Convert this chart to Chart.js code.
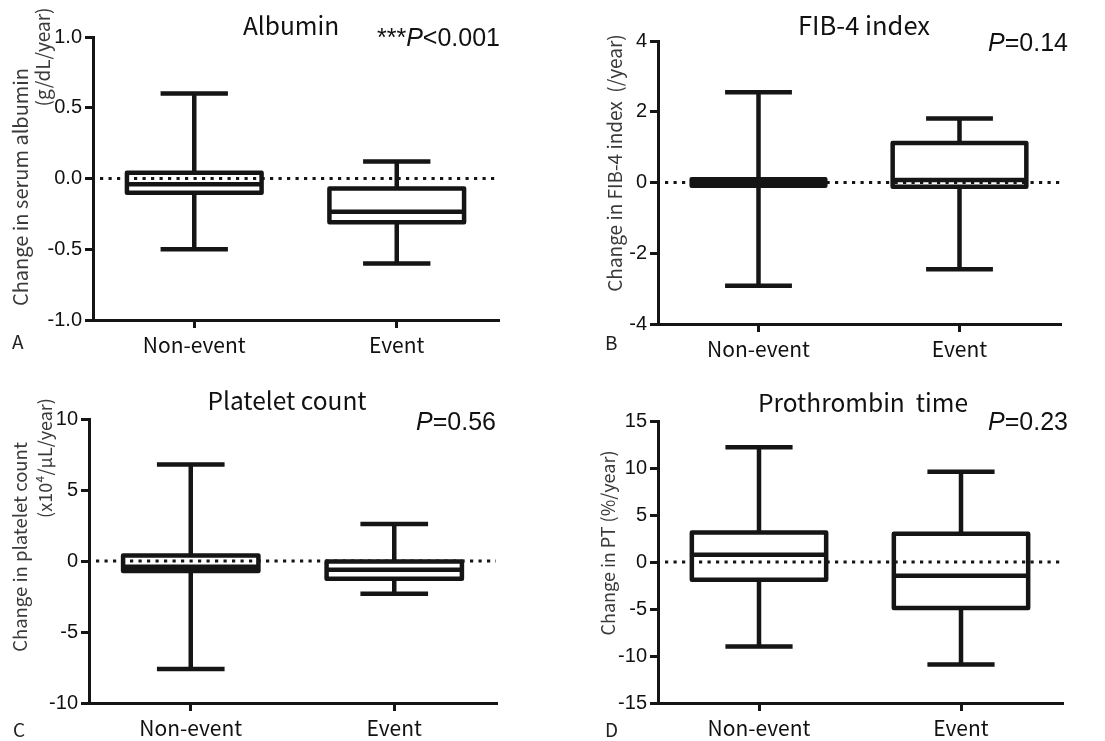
<!DOCTYPE html>
<html>
<head>
<meta charset="utf-8">
<script src="https://cdn.jsdelivr.net/npm/chart.js@4.4.1/dist/chart.umd.min.js"></script>
<style>
  html, body { margin: 0; padding: 0; background: #fff; }
  #wrap { position: relative; width: 1105px; height: 741px; overflow: hidden; }
  canvas { position: absolute; }
</style>
</head>
<body>
<div id="wrap">
  <canvas id="panelA" width="550" height="370" style="left:0;top:0"></canvas>
  <canvas id="panelB" width="555" height="370" style="left:550px;top:0"></canvas>
  <canvas id="panelC" width="550" height="371" style="left:0;top:370px"></canvas>
  <canvas id="panelD" width="555" height="371" style="left:550px;top:370px"></canvas>
</div>
<script>
'use strict';

// groups on the x axis
const groups = ['Non-event', 'Event'];

// A: albumin (g/dL/year)
const albMin = [-0.50, -0.60];
const albQ1  = [-0.10, -0.31];
const albMed = [-0.04, -0.235];
const albQ3  = [0.04, -0.07];
const albMax = [0.60, 0.12];
const albTicks = [-1.0, -0.5, 0.0, 0.5, 1.0];

// B: FIB-4 index (/year)
const fibMin = [-2.92, -2.45];
const fibQ1  = [-0.09, -0.12];
const fibMed = [0.0, 0.07];
const fibQ3  = [0.09, 1.12];
const fibMax = [2.55, 1.81];
const fibTicks = [-4, -2, 0, 2, 4];

// C: platelet count (x10^4/uL/year)
const pltMin = [-7.6, -2.3];
const pltQ1  = [-0.7, -1.25];
const pltMed = [-0.4, -0.62];
const pltQ3  = [0.38, -0.03];
const pltMax = [6.8, 2.6];
const pltTicks = [-10, -5, 0, 5, 10];

// D: prothrombin time (%/year)
const ptMin = [-9.0, -10.9];
const ptQ1  = [-1.9, -4.9];
const ptMed = [0.78, -1.45];
const ptQ3  = [3.15, 3.0];
const ptMax = [12.2, 9.6];
const ptTicks = [-15, -10, -5, 0, 5, 10, 15];

const INK = '#151515';
const TICK_FONT = { family: '"Liberation Sans", Arial, sans-serif', size: 20 };
const LABEL_FONT = '"Noto Sans CJK JP", "Noto Sans", sans-serif';
const P_FONT = '"Liberation Sans", Arial, sans-serif';

// box + whiskers drawn on top of the (invisible) floating bars
const boxWhisker = {
  id: 'boxWhisker',
  beforeDatasetsDraw(chart) {
    const ctx = chart.ctx, a = chart.chartArea, y0 = chart.scales.y.getPixelForValue(0);
    ctx.save();
    ctx.strokeStyle = INK;
    ctx.lineWidth = 3.2;
    ctx.setLineDash([3.2, 5.3]);
    ctx.beginPath();
    ctx.moveTo(a.left + 7, y0);
    ctx.lineTo(a.right, y0);
    ctx.stroke();
    ctx.restore();
  },
  afterDatasetsDraw(chart) {
    const ctx = chart.ctx, ys = chart.scales.y;
    const ds = chart.data.datasets[0];
    const meta = chart.getDatasetMeta(0);
    ctx.save();
    ctx.strokeStyle = INK;
    ctx.lineWidth = 4.5;
    ctx.lineJoin = 'round';
    meta.data.forEach((bar, i) => {
      const x = bar.x, w = bar.width;
      const top = ys.getPixelForValue(ds.q3[i]);
      const bot = ys.getPixelForValue(ds.q1[i]);
      const med = ys.getPixelForValue(ds.med[i]);
      const hi = ys.getPixelForValue(ds.hi[i]);
      const lo = ys.getPixelForValue(ds.lo[i]);
      const cap = w / 4;
      ctx.beginPath();
      ctx.moveTo(x, top); ctx.lineTo(x, hi);
      ctx.moveTo(x - cap, hi); ctx.lineTo(x + cap, hi);
      ctx.moveTo(x, bot); ctx.lineTo(x, lo);
      ctx.moveTo(x - cap, lo); ctx.lineTo(x + cap, lo);
      ctx.stroke();
      ctx.beginPath();
      ctx.rect(x - w / 2, top, w, bot - top);
      ctx.moveTo(x - w / 2, med); ctx.lineTo(x + w / 2, med);
      ctx.stroke();
    });
    ctx.restore();
  },
  afterDraw(chart) {
    const o = chart.options.plugins.boxWhisker;
    const ctx = chart.ctx;
    ctx.save();
    ctx.fillStyle = '#111';
    ctx.textBaseline = 'alphabetic';
    // title
    ctx.font = o.titleSize + 'px ' + LABEL_FONT;
    ctx.textAlign = 'center';
    ctx.fillText(o.title, o.titleX, o.titleY);
    // p value, right aligned, P in italics
    ctx.textAlign = 'left';
    const parts = [[o.pPre, 'normal'], ['P', 'italic'], [o.pPost, 'normal']];
    let total = 0;
    parts.forEach(p => { ctx.font = p[1] + ' 25px ' + P_FONT; total += ctx.measureText(p[0]).width; });
    let px = o.pX - total;
    parts.forEach(p => {
      ctx.font = p[1] + ' 25px ' + P_FONT;
      ctx.fillText(p[0], px, o.pY);
      px += ctx.measureText(p[0]).width;
    });
    // panel letter
    ctx.font = '19px ' + LABEL_FONT;
    ctx.fillStyle = '#222';
    ctx.fillText(o.letter, o.letterX, o.letterY);
    // rotated y titles
    ctx.fillStyle = '#3a3a3a';
    ctx.textAlign = 'center';
    ctx.textBaseline = 'middle';
    o.yTitles.forEach(t => {
      ctx.save();
      ctx.font = t[3] + 'px ' + LABEL_FONT;
      ctx.translate(t[1], t[2]);
      ctx.rotate(-Math.PI / 2);
      ctx.fillText(t[0], 0, 0);
      ctx.restore();
    });
    ctx.restore();
  }
};

function makePanel(id, stats, ticks, area, text) {
  const canvas = document.getElementById(id);
  const W = canvas.width, H = canvas.height;
  const yW = 60, xH = 40;
  const lo = ticks[0], hi = ticks[ticks.length - 1];
  return new Chart(canvas, {
    type: 'bar',
    data: {
      labels: groups,
      datasets: [{
        data: stats.q1.map((v, i) => [v, stats.q3[i]]),
        q1: stats.q1, q3: stats.q3, med: stats.med, lo: stats.lo, hi: stats.hi,
        backgroundColor: 'rgba(0,0,0,0)',
        borderWidth: 0,
        barPercentage: 0.665,
        categoryPercentage: 1
      }]
    },
    options: {
      responsive: false,
      animation: false,
      events: [],
      layout: {
        padding: { left: area.left - yW, right: W - area.right, top: area.top, bottom: H - area.bottom - xH }
      },
      plugins: {
        legend: { display: false },
        tooltip: { enabled: false },
        boxWhisker: text
      },
      scales: {
        x: {
          afterFit(s) { s.height = xH; },
          border: { color: INK, width: 3 },
          grid: { display: true, offset: false, drawOnChartArea: false, drawTicks: true, tickLength: 8, color: INK, lineWidth: 3 },
          ticks: { color: '#111', font: { family: LABEL_FONT, size: 21 }, padding: 4 }
        },
        y: {
          min: lo, max: hi,
          afterFit(s) { s.width = yW; },
          afterBuildTicks(s) { s.ticks = ticks.map(v => ({ value: v })); },
          border: { color: INK, width: 3 },
          grid: { drawOnChartArea: false, drawTicks: true, tickLength: 8, color: INK, lineWidth: 3 },
          ticks: {
            color: '#111', font: TICK_FONT, padding: 3, autoSkip: false,
            callback: v => text.decimals ? v.toFixed(text.decimals) : String(v)
          }
        }
      }
    },
    plugins: [boxWhisker]
  });
}

makePanel('panelA',
  { q1: albQ1, q3: albQ3, med: albMed, lo: albMin, hi: albMax }, albTicks,
  { left: 93, right: 498, top: 37, bottom: 320 },
  { title: 'Albumin', titleSize: 24.5, titleX: 291, titleY: 35, pPre: '***', pPost: '<0.001', pX: 500, pY: 46,
    letter: 'A', letterX: 12, letterY: 349, decimals: 1,
    yTitles: [['Change in serum albumin', 20, 187, 20], ['(g/dL/year)', 43, 57, 19]] });

makePanel('panelB',
  { q1: fibQ1, q3: fibQ3, med: fibMed, lo: fibMin, hi: fibMax }, fibTicks,
  { left: 108, right: 510, top: 41, bottom: 324 },
  { title: 'FIB-4 index', titleSize: 25.5, titleX: 314, titleY: 35, pPre: '', pPost: '=0.14', pX: 518, pY: 51,
    letter: 'B', letterX: 55, letterY: 350, decimals: 0,
    yTitles: [['Change in FIB-4 index  (/year)', 65, 163, 19]] });

makePanel('panelC',
  { q1: pltQ1, q3: pltQ3, med: pltMed, lo: pltMin, hi: pltMax }, pltTicks,
  { left: 89, right: 496, top: 49, bottom: 333 },
  { title: 'Platelet count', titleSize: 24.5, titleX: 287, titleY: 40, pPre: '', pPost: '=0.56', pX: 496, pY: 60,
    letter: 'C', letterX: 13, letterY: 367, decimals: 0,
    yTitles: [['Change in platelet count', 20, 547 - 370, 18.5], ['(x10\u2074/\u03bcL/year)', 45, 88, 18]] });

makePanel('panelD',
  { q1: ptQ1, q3: ptQ3, med: ptMed, lo: ptMin, hi: ptMax }, ptTicks,
  { left: 108, right: 512, top: 51, bottom: 333 },
  { title: 'Prothrombin  time', titleSize: 24.5, titleX: 313, titleY: 42, pPre: '', pPost: '=0.23', pX: 518, pY: 60,
    letter: 'D', letterX: 55, letterY: 367, decimals: 0,
    yTitles: [['Change in PT (%/year)', 58, 173, 18]] });
</script>
</body>
</html>
